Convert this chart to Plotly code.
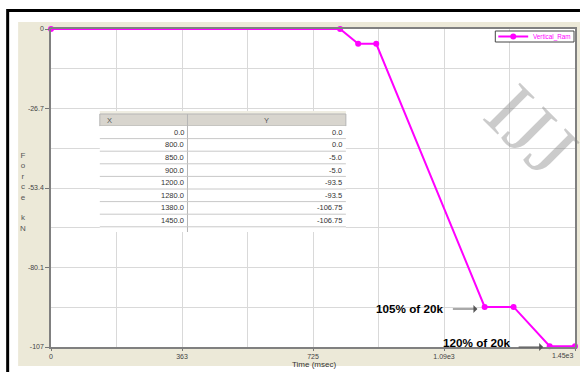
import plotly.graph_objects as go

# Vertical ram force profile (time in msec, force in kN)
time_ms = [0.0, 800.0, 850.0, 900.0, 1200.0, 1280.0, 1380.0, 1450.0]
force_kn = [0.0, 0.0, -5.0, -5.0, -93.5, -93.5, -106.75, -106.75]

table_x = ["0.0", "800.0", "850.0", "900.0", "1200.0", "1280.0", "1380.0", "1450.0"]
table_y = ["0.0", "0.0", "-5.0", "-5.0", "-93.5", "-93.5", "-106.75", "-106.75"]

x_ticks = [0, 362.5, 725, 1087.5, 1450]
x_tick_text = ["0", "363", "725", "1.09e3", ""]
y_ticks = [0, -26.75, -53.5, -80.25, -107]
y_tick_text = ["0", "-26.7", "-53.4", "-80.1", "-107"]

W, H = 580, 372
ML, MR, MT, MB = 51, 3, 29, 25
PW, PH = W - ML - MR, H - MT - MB


def px(x):
    return (x - ML) / PW


def py(y):
    return (H - MB - y) / PH


MAGENTA = "#FF00FF"
FONT = "Liberation Sans, Arial, sans-serif"


def rect(x0, x1, y0, y1, fill, line=None, layer="above"):
    return dict(type="rect", xref="paper", yref="paper", layer=layer,
                x0=px(x0), x1=px(x1), y0=py(y1), y1=py(y0),
                fillcolor=fill, line=line or dict(width=0))


def hline(x0, x1, y, color, width=1, layer="above"):
    return dict(type="line", xref="paper", yref="paper", layer=layer,
                x0=px(x0), x1=px(x1), y0=py(y), y1=py(y),
                line=dict(color=color, width=width))


def vline(x, y0, y1, color, width=1, layer="above"):
    return dict(type="line", xref="paper", yref="paper", layer=layer,
                x0=px(x), x1=px(x), y0=py(y0), y1=py(y1),
                line=dict(color=color, width=width))


def label(text, x, y, size=7, color="#444", xanchor="center", family=FONT, **kw):
    return dict(text=text, xref="paper", yref="paper", x=px(x), y=py(y),
                xanchor=xanchor, yanchor="middle", showarrow=False,
                font=dict(family=family, size=size, color=color), **kw)


fig = go.Figure()

fig.add_trace(go.Scatter(
    x=time_ms, y=force_kn, mode="lines+markers", name="Vertical_Ram",
    line=dict(color=MAGENTA, width=2),
    marker=dict(color=MAGENTA, size=6),
    cliponaxis=False, showlegend=False,
))

shapes = [
    # beige panel behind the chart, white plotting area on top of it
    rect(18, 582, 22, 366, "#ECE9D8", layer="below"),
    rect(51, 577, 29, 347, "white", layer="below"),
    # black outer frame (top and left)
    rect(7, 582, 9, 12, "black"),
    rect(6, 9, 9, 374, "black"),
]

annotations = [
    label("F<br>o<br>r<br>c<br>e<br> <br>k<br>N", 23, 192, size=8, color="#555"),
    label("Time (msec)", 315, 364, size=8, color="#333"),
    label("1.45e3", 578, 355, xanchor="right"),
    label("<b>105% of 20k</b>", 411, 308, size=11.7, color="black"),
    label("<b>120% of 20k</b>", 478, 342, size=11.7, color="black"),
    dict(text="", xref="paper", yref="paper", x=px(479), y=py(309),
         ax=-26, ay=0, showarrow=True, arrowhead=1, arrowsize=1.1,
         arrowwidth=1.2, arrowcolor="#555"),
    dict(text="", xref="paper", yref="paper", x=px(545), y=py(347),
         ax=-26, ay=0, showarrow=True, arrowhead=1, arrowsize=1.1,
         arrowwidth=1.2, arrowcolor="#555"),
    # faint watermark
    label("IJJ", 533, 130, size=80, color="rgba(130,130,130,0.42)",
          family="Liberation Serif, serif", textangle=45),
]

# Data table (X / Y)
TX0, TXM, TX1 = 100, 188, 347
TY0, HDR, ROW, TY1 = 114, 12, 12.6, 232
shapes += [
    rect(TX0, TX1, TY0 - 3, TY0, "#EFEDE2"),
    rect(TX0, TX1, TY0, TY0 + HDR, "#D8D5CE", line=dict(color="#B5B5B5", width=1)),
    rect(TX0, TX1, TY0 + HDR, TY1, "white"),
    vline(TXM, TY0, TY1, "#B5B5B5"),
]
for i in range(1, len(table_x) + 1):
    shapes.append(hline(TX0, TX1, TY0 + HDR + i * ROW, "#C8C8C8"))
annotations += [
    label("X", TX0 + 5, TY0 + HDR / 2, xanchor="left", size=7.5, color="#555"),
    label("Y", (TXM + TX1) / 2, TY0 + HDR / 2, size=7.5, color="#555"),
]
for i, (xv, yv) in enumerate(zip(table_x, table_y)):
    yc = TY0 + HDR + (i + 0.5) * ROW
    annotations.append(label(xv, TXM - 1, yc, xanchor="right", size=7.5, color="#333"))
    annotations.append(label(yv, TX1 - 2, yc, xanchor="right", size=7.5, color="#333"))

# Legend box
LX0, LX1, LY0, LY1 = 497, 576, 31, 42
LYC = (LY0 + LY1) / 2
shapes += [
    rect(LX0, LX1, LY0, LY1, "white", line=dict(color="#444", width=1)),
    hline(LX0 + 3, LX0 + 33, LYC, MAGENTA, width=2),
    dict(type="circle", xref="paper", yref="paper", layer="above",
         x0=px(LX0 + 15), x1=px(LX0 + 21), y0=py(LYC + 3), y1=py(LYC - 3),
         fillcolor=MAGENTA, line=dict(width=0)),
]
annotations.append(label("Vertical_Ram", LX1 - 2, LYC, xanchor="right",
                         size=6.3, color=MAGENTA))

fig.update_layout(
    width=W, height=H,
    margin=dict(l=ML, r=MR, t=MT, b=MB, pad=0),
    paper_bgcolor="white", plot_bgcolor="white",
    shapes=shapes, annotations=annotations,
    showlegend=False,
    xaxis=dict(
        range=[0, 1450], tickvals=x_ticks, ticktext=x_tick_text,
        ticks="outside", ticklen=2, tickcolor="#777",
        tickfont=dict(family=FONT, size=7, color="#444"),
        showgrid=True, gridcolor="#D9D9D9", gridwidth=1,
        minor=dict(tick0=0, dtick=181.25, showgrid=True, gridcolor="#D9D9D9",
                   ticks=""),
        showline=True, linecolor="#808080", linewidth=1.5, mirror=True,
        zeroline=False, fixedrange=True,
    ),
    yaxis=dict(
        range=[-107, 0], tickvals=y_ticks, ticktext=y_tick_text,
        ticks="outside", ticklen=4, tickcolor="#777",
        tickfont=dict(family=FONT, size=7, color="#444"),
        showgrid=True, gridcolor="#D9D9D9", gridwidth=1,
        minor=dict(tick0=0, dtick=13.375, showgrid=True, gridcolor="#D9D9D9",
                   ticks=""),
        showline=True, linecolor="#808080", linewidth=1.5, mirror=True,
        zeroline=False, fixedrange=True,
    ),
)

fig.write_html("out.html")
